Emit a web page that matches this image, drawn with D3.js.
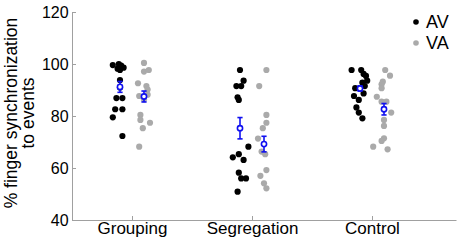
<!DOCTYPE html>
<html><head><meta charset="utf-8">
<script src="https://cdn.jsdelivr.net/npm/d3@7"></script>
<style>body{margin:0;background:#fff}svg{display:block}text{font-family:Arial,"Liberation Sans",sans-serif}</style>
</head><body><svg id="c" width="459" height="244"></svg>
<script>
const categories = ["Grouping", "Segregation", "Control"];
const yTicks = [40, 60, 80, 100, 120];
const seriesNames = ["AV", "VA"];
// individual values per category (AV, VA)
const groupingAV = [99.6, 100, 99.4, 98.6, 97.7, 98.2, 93.8, 91, 86.9, 86.9, 82.6, 82.6, 79.5, 72.3];
const groupingVA = [100.4, 97.1, 97.7, 92.6, 91.5, 90.2, 87.7, 88.2, 86.4, 80.4, 78.5, 77.4, 75.3, 68.2];
const segregationAV = [97.7, 93.6, 91.5, 91.5, 87.2, 86.2, 68.2, 64.1, 65.3, 63.1, 58.2, 56, 56, 50.9];
const segregationVA = [97.7, 91.5, 80.4, 77.4, 75.3, 71.3, 66.3, 65.3, 59.2, 57, 54.1, 52.2];
const controlAV = [97.7, 97.7, 96.2, 95.4, 93.6, 92.8, 91.5, 90.7, 88.7, 87.7, 86.2, 83.3, 81.3, 79.1];
const controlVA = [97.7, 95.5, 93.2, 92.2, 90.7, 87.4, 85.5, 85.5, 81.3, 78.5, 76.2, 71.4, 70.4, 68.2, 67.2];
// horizontal jitter (category units)
const groupingAVJit = [-0.06, -0.01, 0.01, 0.03, 0.0, -0.02, 0.0, 0.0, -0.03, 0.02, -0.04, 0.02, -0.06, 0.02];
const groupingVAJit = [0.0, 0.0, 0.04, -0.05, 0.02, 0.03, -0.04, 0.03, 0.0, -0.03, -0.03, 0.05, -0.01, -0.04];
const segregationAVJit = [0.0, 0.03, -0.03, 0.01, -0.02, -0.01, 0.07, -0.06, -0.01, 0.03, -0.01, 0.01, 0.05, -0.02];
const segregationVAJit = [0.02, -0.04, 0.02, 0.02, -0.01, -0.05, -0.02, 0.01, 0.02, -0.03, 0.0, 0.02, -0.01];
const controlAVJit = [-0.07, 0.01, 0.03, 0.05, 0.06, 0.02, 0.04, -0.04, 0.03, -0.05, -0.01, -0.03, -0.01, 0.02];
const controlVAJit = [0.01, 0.05, -0.01, -0.02, -0.02, -0.06, -0.02, 0.02, 0.06, 0.0, 0.0, 0.0, -0.02, -0.09, 0.03];
// means and standard errors
const meansAV = [91.2, 75.3, 90.6];
const meansVA = [87.5, 69.2, 82.6];
const semAV = [2.1, 4.1, 1.0];
const semVA = [2.1, 3.0, 2.2];

const valuesAV = [groupingAV, segregationAV, controlAV];
const valuesVA = [groupingVA, segregationVA, controlVA];
const jitAV = [groupingAVJit, segregationAVJit, controlAVJit];
const jitVA = [groupingVAJit, segregationVAJit, controlVAJit];

const svg = d3.select("#c");
const x = d3.scaleLinear().domain([0.5, 3.7]).range([72, 456]);
const y = d3.scaleLinear().domain([40, 120]).range([220, 12]);
const axisColor = "#a0a0a0";
const off = {AV: -0.1, VA: 0.1};

// axes
const ya = svg.append("g").attr("transform", "translate(72,0)")
  .call(d3.axisLeft(y).tickValues(yTicks).tickSizeInner(-4).tickSizeOuter(0).tickPadding(5));
const xa = svg.append("g").attr("transform", "translate(0,220)")
  .call(d3.axisBottom(x).tickValues([1, 2, 3]).tickFormat((d, i) => categories[i]).tickSizeInner(-4).tickSizeOuter(0).tickPadding(2));
[ya, xa].forEach(g => {
  g.select(".domain").attr("stroke", axisColor).attr("stroke-width", 1);
  g.selectAll(".tick line").attr("stroke", axisColor);
  g.selectAll(".tick text").attr("fill", "#000").style("font-family", "Arial, 'Liberation Sans', sans-serif");
});
ya.selectAll(".tick text").style("font-size", "16px").attr("dx", "0.1em");
xa.selectAll(".tick text").style("font-size", "17px");

// y label
const yl = svg.append("text").attr("transform", "translate(17,113) rotate(-90)")
  .attr("text-anchor", "middle").style("font-size", "17.5px").attr("fill", "#000");
yl.append("tspan").attr("x", 0).attr("dy", 0).text("% finger synchronization");
yl.append("tspan").attr("x", 0).attr("dy", 17).text("to events");

// points
function drawSeries(vals, jits, o, color) {
  vals.forEach((arr, ci) => {
    svg.append("g").selectAll("circle").data(arr).join("circle")
      .attr("cx", (d, i) => x(ci + 1 + o + jits[ci][i]))
      .attr("cy", d => y(d))
      .attr("r", 3.1).attr("fill", color);
  });
}
drawSeries(valuesVA, jitVA, off.VA, "#aaaaaa");
drawSeries(valuesAV, jitAV, off.AV, "#000");

// means
function drawMeans(means, sems, o) {
  const g = svg.append("g").attr("stroke", "#1010f0").attr("stroke-width", 1.6).attr("fill", "none");
  means.forEach((m, i) => {
    const cx = x(i + 1 + o);
    g.append("line").attr("x1", cx).attr("x2", cx).attr("y1", y(m - sems[i])).attr("y2", y(m + sems[i]));
    g.append("line").attr("x1", cx - 2.6).attr("x2", cx + 2.6).attr("y1", y(m - sems[i])).attr("y2", y(m - sems[i]));
    g.append("line").attr("x1", cx - 2.6).attr("x2", cx + 2.6).attr("y1", y(m + sems[i])).attr("y2", y(m + sems[i]));
    g.append("circle").attr("cx", cx).attr("cy", y(m)).attr("r", 2.6).attr("fill", "#fff");
  });
}
drawMeans(meansVA, semVA, off.VA);
drawMeans(meansAV, semAV, off.AV);

// legend
const lg = svg.append("g");
[["AV", "#000"], ["VA", "#aaaaaa"]].forEach(([n, c], i) => {
  lg.append("circle").attr("cx", 416).attr("cy", 22 + i * 21).attr("r", 2.8).attr("fill", c);
  lg.append("text").attr("x", 426).attr("y", 22 + i * 21).attr("dy", "0.35em").style("font-size", "18px").text(seriesNames[i]);
});
</script></body></html>
